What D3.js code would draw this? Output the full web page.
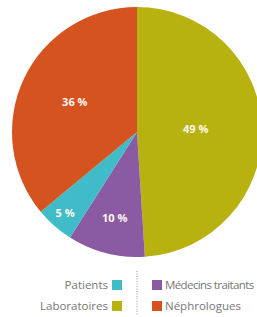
<!DOCTYPE html>
<html>
<head>
<meta charset="utf-8">
<script src="https://cdn.jsdelivr.net/npm/d3@7"></script>
<style>
  html, body { margin: 0; padding: 0; background: #fff; overflow: hidden; }
</style>
</head>
<body>
<svg id="chart" width="257" height="317"></svg>
<script>
// Slices in drawing order, clockwise from 12 o'clock
const categories = ['Laboratoires', 'Médecins traitants', 'Patients', 'Néphrologues'];
const shares     = [49, 10, 5, 36];
const colors     = ['#b7b20f', '#8a5ba2', '#3fbcc7', '#d5531e'];

// Legend layout: left column (right-aligned), right column
const legendLeft  = ['Patients', 'Laboratoires'];
const legendRight = ['Médecins traitants', 'Néphrologues'];

const svg = d3.select('#chart');
const cx = 137, cy = 132, r = 125;
const font = '"Open Sans", "Noto Sans", sans-serif';

const color = d3.scaleOrdinal().domain(categories).range(colors);

const pie = d3.pie().sort(null).value(d => d.v);
const arcs = pie(categories.map((c, i) => ({ c, v: shares[i] })));
const arc = d3.arc().innerRadius(0).outerRadius(r);

const g = svg.append('g').attr('transform', `translate(${cx},${cy})`);

g.selectAll('path').data(arcs).join('path')
  .attr('d', arc)
  .attr('fill', d => color(d.data.c));

// Label distance from centre (fraction of radius)
const labelR = { 'Laboratoires': 0.47, 'Médecins traitants': 0.72, 'Patients': 0.87, 'Néphrologues': 0.55 };

g.selectAll('text.val').data(arcs).join('text')
  .attr('class', 'val')
  .attr('transform', d => {
    const a = (d.startAngle + d.endAngle) / 2;
    const k = labelR[d.data.c] * r;
    return `translate(${Math.sin(a) * k},${-Math.cos(a) * k})`;
  })
  .attr('text-anchor', 'middle').attr('dominant-baseline', 'middle')
  .attr('fill', '#fff8ee').attr('font-size', 11).attr('font-weight', 700)
  .attr('font-family', font)
  .text(d => d.data.v + ' %');

// Legend
const rowY = [285, 306];
const lg = svg.append('g').attr('font-family', font)
  .attr('font-size', 11.5).attr('fill', '#777');

legendLeft.forEach((name, i) => {
  lg.append('rect').attr('x', 112).attr('y', rowY[i] - 5).attr('width', 10).attr('height', 10)
    .attr('fill', color(name));
  lg.append('text').attr('x', 108).attr('y', rowY[i]).attr('dy', '0.35em')
    .attr('text-anchor', 'end').text(name);
});

legendRight.forEach((name, i) => {
  lg.append('rect').attr('x', 152).attr('y', rowY[i] - 5).attr('width', 10).attr('height', 10)
    .attr('fill', color(name));
  lg.append('text').attr('x', 165).attr('y', rowY[i]).attr('dy', '0.35em')
    .attr('text-anchor', 'start')
    .attr('letter-spacing', i === 0 ? -0.6 : 0)
    .text(name);
});

svg.append('line').attr('x1', 137).attr('x2', 137).attr('y1', 271).attr('y2', 316)
  .attr('stroke', '#999').attr('stroke-width', 1).attr('stroke-dasharray', '1 1.5');
</script>
</body>
</html>
